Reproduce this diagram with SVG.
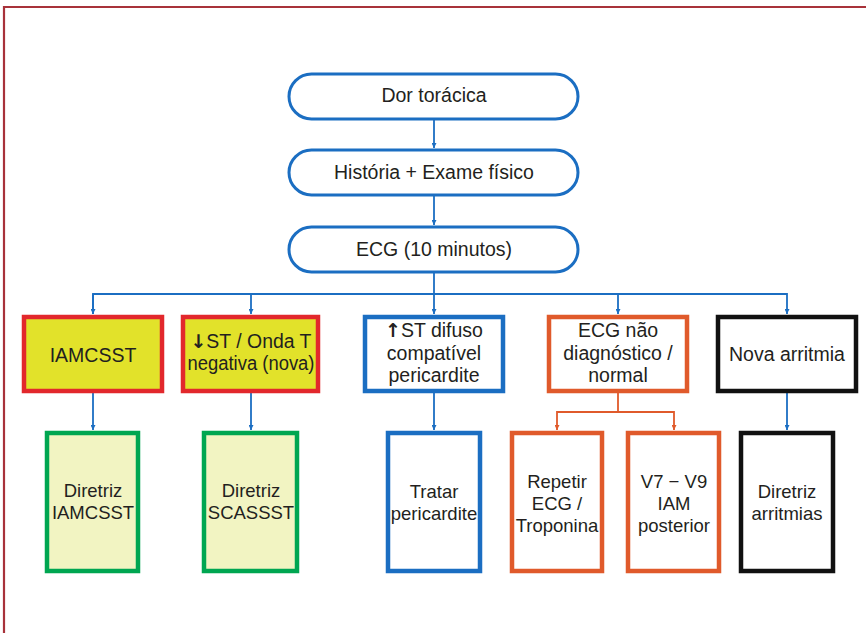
<svg xmlns="http://www.w3.org/2000/svg" width="866" height="633" viewBox="0 0 866 633">
  <style>
    text { font-family: "Liberation Sans", Arial, sans-serif; font-size: 18.5px; fill: #231f20; text-anchor: middle; }
    .big { font-size: 19.5px; }
    .arr { font-family: "DejaVu Sans", sans-serif; font-weight: bold; font-size: 19px; }
    .pill { fill: #ffffff; stroke: #1b6ec2; stroke-width: 3; }
    .red { fill: #e2e22a; stroke: #e2282c; stroke-width: 4.5; }
    .green { fill: #f2f4c2; stroke: #00a651; stroke-width: 4.5; }
    .blue { fill: #ffffff; stroke: #1b6ec2; stroke-width: 4.5; }
    .orange { fill: #ffffff; stroke: #e05a2b; stroke-width: 4.5; }
    .black { fill: #ffffff; stroke: #111111; stroke-width: 4.5; }
    .lb { fill: none; stroke: #1b6ec2; stroke-width: 1.8; }
    .lo { fill: none; stroke: #e05a2b; stroke-width: 1.8; }
  </style>
  <defs>
    <marker id="ab" viewBox="0 0 10 10" refX="10" refY="5" markerWidth="5" markerHeight="5" markerUnits="userSpaceOnUse" orient="auto">
      <path d="M0,0 L10,5 L0,10 z" fill="#1b6ec2"/>
    </marker>
    <marker id="ao" viewBox="0 0 10 10" refX="10" refY="5" markerWidth="5" markerHeight="5" markerUnits="userSpaceOnUse" orient="auto">
      <path d="M0,0 L10,5 L0,10 z" fill="#e05a2b"/>
    </marker>
  </defs>

  <!-- frame -->
  <path d="M4,633 V7 H866" fill="none" stroke="#a8323a" stroke-width="2.2"/>

  <!-- connectors -->
  <g id="connectors">
    <path class="lb" d="M434,119 V148" marker-end="url(#ab)"/>
    <path class="lb" d="M434,196 V225" marker-end="url(#ab)"/>
    <path class="lb" d="M434,273 V314" marker-end="url(#ab)"/>
    <path class="lb" d="M93,314 V294 H787 V314" marker-end="url(#ab)"/>
    <path class="lb" d="M93,294 V314" marker-end="url(#ab)"/>
    <path class="lb" d="M251,294 V314" marker-end="url(#ab)"/>
    <path class="lb" d="M618,294 V314" marker-end="url(#ab)"/>
    <path class="lb" d="M93,393 V430" marker-end="url(#ab)"/>
    <path class="lb" d="M251,393 V430" marker-end="url(#ab)"/>
    <path class="lb" d="M434,393 V430" marker-end="url(#ab)"/>
    <path class="lb" d="M787,393 V430" marker-end="url(#ab)"/>
    <path class="lo" d="M618,393 V412 H557 V430" marker-end="url(#ao)"/>
    <path class="lo" d="M618,412 H674 V430" marker-end="url(#ao)"/>
  </g>

  <g id="dor">
    <rect class="pill" x="289" y="74" width="289" height="45" rx="22.5"/>
    <text class="big" x="434" y="102">Dor torácica</text>
  </g>
  <g id="historia">
    <rect class="pill" x="289" y="150" width="289" height="45" rx="22.5"/>
    <text class="big" x="434" y="179">História + Exame físico</text>
  </g>
  <g id="ecg">
    <rect class="pill" x="289" y="227" width="289" height="45" rx="22.5"/>
    <text class="big" x="434" y="256">ECG (10 minutos)</text>
  </g>

  <g id="iamcsst">
    <rect class="red" x="24" y="317" width="138" height="74"/>
    <text class="big" x="93" y="362">IAMCSST</text>
  </g>
  <g id="infra-st">
    <rect class="red" x="183" y="317" width="135" height="74"/>
    <text class="big" x="251" y="348" textLength="121" lengthAdjust="spacingAndGlyphs"><tspan class="arr">↓</tspan>ST / Onda T</text>
    <text class="big" x="251" y="370" textLength="127" lengthAdjust="spacingAndGlyphs">negativa (nova)</text>
  </g>
  <g id="supra-st">
    <rect class="blue" x="365" y="317" width="138" height="74"/>
    <text class="big" x="434" y="337"><tspan class="arr">↑</tspan>ST difuso</text>
    <text class="big" x="434" y="360">compatível</text>
    <text class="big" x="434" y="382">pericardite</text>
  </g>
  <g id="ecg-nao-diag">
    <rect class="orange" x="549" y="317" width="138" height="74"/>
    <text class="big" x="618" y="337">ECG não</text>
    <text class="big" x="618" y="360">diagnóstico /</text>
    <text class="big" x="618" y="382">normal</text>
  </g>
  <g id="arritmia">
    <rect class="black" x="718" y="317" width="138" height="74"/>
    <text class="big" x="787" y="361">Nova arritmia</text>
  </g>

  <g id="diretriz-iamcsst">
    <rect class="green" x="47" y="433" width="91" height="138"/>
    <text x="93" y="497">Diretriz</text>
    <text x="93" y="519">IAMCSST</text>
  </g>
  <g id="diretriz-scassst">
    <rect class="green" x="204" y="433" width="93" height="138"/>
    <text x="251" y="497">Diretriz</text>
    <text x="251" y="519">SCASSST</text>
  </g>
  <g id="tratar">
    <rect class="blue" x="388" y="433" width="92" height="138"/>
    <text x="434" y="498">Tratar</text>
    <text x="434" y="520">pericardite</text>
  </g>
  <g id="repetir">
    <rect class="orange" x="512" y="433" width="90" height="138"/>
    <text x="557" y="488">Repetir</text>
    <text x="557" y="510">ECG /</text>
    <text x="557" y="532">Troponina</text>
  </g>
  <g id="v7v9">
    <rect class="orange" x="628" y="433" width="91" height="138"/>
    <text x="674" y="488">V7 − V9</text>
    <text x="674" y="510">IAM</text>
    <text x="674" y="532">posterior</text>
  </g>
  <g id="diretriz-arritmias">
    <rect class="black" x="741" y="433" width="92" height="138"/>
    <text x="787" y="498">Diretriz</text>
    <text x="787" y="520">arritmias</text>
  </g>
</svg>
